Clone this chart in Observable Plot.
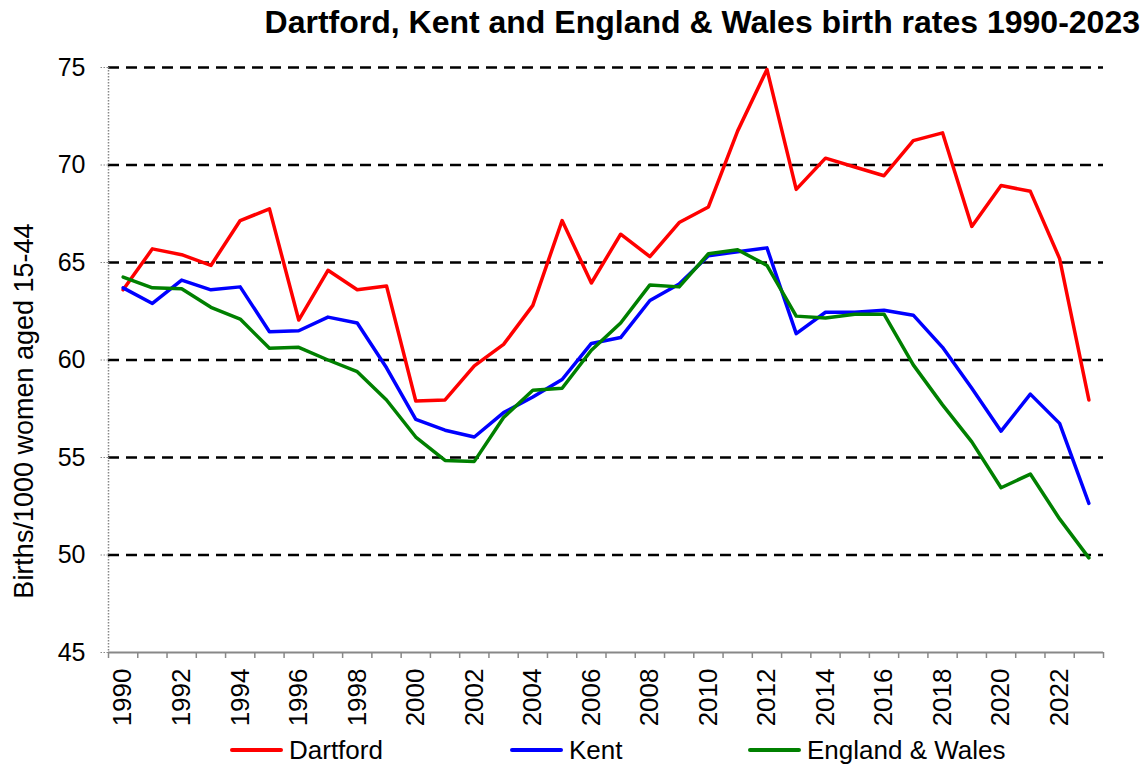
<!DOCTYPE html>
<html><head><meta charset="utf-8">
<script src="https://cdn.jsdelivr.net/npm/d3@7"></script>
<script src="https://cdn.jsdelivr.net/npm/@observablehq/plot@0.6"></script>
<style>
body{margin:0;background:#fff;font-family:"Liberation Sans",Arial,sans-serif;}
#wrap{position:relative;width:1145px;height:769px;overflow:hidden;}
#title{position:absolute;right:5px;top:0;height:44px;line-height:44px;font-weight:bold;font-size:32px;white-space:nowrap;color:#000;}
#chart{position:absolute;left:0;top:44px;}
.leg{position:absolute;top:733px;font-size:26px;display:flex;align-items:center;height:34px;color:#000;white-space:nowrap;}
.leg .sw{display:inline-block;width:53px;height:4px;margin-right:6px;border-radius:2px;}
</style>
</head><body>
<div id="wrap">
  <div id="title">Dartford, Kent and England &amp; Wales birth rates 1990-2023</div>
  <div id="chart"></div>
  <div id="legend"></div>
</div>
<script>
const years = [1990,1991,1992,1993,1994,1995,1996,1997,1998,1999,
               2000,2001,2002,2003,2004,2005,2006,2007,2008,2009,
               2010,2011,2012,2013,2014,2015,2016,2017,2018,2019,
               2020,2021,2022,2023];
const dartford = [63.6,65.7,65.4,64.85,67.15,67.75,62.05,64.6,63.6,63.8,
                  57.9,57.95,59.7,60.8,62.8,67.15,63.95,66.45,65.3,67.05,
                  67.85,71.75,74.9,68.75,70.35,69.9,69.45,71.25,71.65,66.85,
                  68.95,68.65,65.2,57.95];
const kent = [63.7,62.9,64.1,63.6,63.75,61.45,61.5,62.2,61.9,59.6,
              56.95,56.4,56.05,57.3,58.1,59.0,60.85,61.15,63.05,63.9,
              65.35,65.55,65.75,61.35,62.45,62.45,62.55,62.3,60.65,58.55,
              56.35,58.25,56.75,52.65];
const englandWales = [64.25,63.7,63.65,62.7,62.1,60.6,60.65,60.0,59.4,57.95,
                      56.05,54.85,54.8,57.05,58.45,58.55,60.5,61.9,63.85,63.75,
                      65.45,65.65,64.85,62.25,62.15,62.35,62.35,59.75,57.7,55.8,
                      53.45,54.15,51.85,49.85];
const seriesNames = ["Dartford","Kent","England & Wales"];
const seriesColors = ["#ff0000","#0000ff","#008000"];
const seriesValues = [dartford, kent, englandWales];
const yTicks = [45,50,55,60,65,70,75];
const gridValues = [50,55,60,65,70,75];
const yLabel = "Births/1000 women aged 15-44";

const data = seriesNames.flatMap((name, s) => seriesValues[s].map((v, i) => ({year: years[i], value: v, name})));
const boundaries = years.map(y => y - 0.5).concat([years[years.length - 1] + 0.5]);
const labelYears = years.filter((y, i) => i % 2 === 0);

const chart = Plot.plot({
  width: 1145, height: 686,
  marginLeft: 108, marginRight: 42, marginTop: 23, marginBottom: 78,
  style: {fontFamily: "'Liberation Sans', Arial, sans-serif", fontSize: "25px", background: "#fff", color: "#000", overflow: "visible"},
  x: {domain: [boundaries[0], boundaries[boundaries.length - 1]]},
  y: {domain: [45, 75]},
  color: {domain: seriesNames, range: seriesColors},
  marks: [
    Plot.ruleY(gridValues, {stroke: "#000", strokeWidth: 2.5, strokeDasharray: "11,7"}),
    Plot.ruleX([boundaries[0]], {stroke: "#888", strokeWidth: 1.5, strokeDasharray: "1.5,1.5"}),
    Plot.ruleY([45], {stroke: "#888", strokeWidth: 2}),
    Plot.axisY({ticks: yTicks, tickSize: 8, tickPadding: 15, stroke: "#888", strokeDasharray: "1.5,1.5", label: null}),
    Plot.text([yLabel], {frameAnchor: "left", dx: -84.5, dy: 51, rotate: -90, textAnchor: "middle", lineAnchor: "middle", fontSize: 27, fill: "#000"}),
    Plot.axisX({ticks: boundaries, tickSize: 6, tickFormat: () => "", stroke: "#888", strokeWidth: 1.5, label: null}),
    Plot.axisX({ticks: labelYears, tickSize: 0, tickPadding: 16, tickRotate: -90, tickFormat: d => String(d), fontSize: 26, label: null}),
    Plot.line(data, {x: "year", y: "value", stroke: "name", z: "name", strokeWidth: 3.5})
  ]
});
document.getElementById("chart").appendChild(chart);

const legendX = [230, 510, 748];
const legend = document.getElementById("legend");
seriesNames.forEach((name, i) => {
  const item = document.createElement("div");
  item.className = "leg";
  item.style.left = legendX[i] + "px";
  const sw = document.createElement("span");
  sw.className = "sw";
  sw.style.background = seriesColors[i];
  item.appendChild(sw);
  item.appendChild(document.createTextNode(name));
  legend.appendChild(item);
});
</script>
</body></html>
